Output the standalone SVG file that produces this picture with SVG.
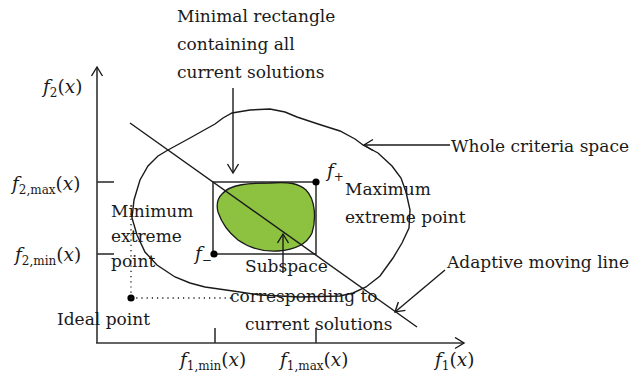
<svg xmlns="http://www.w3.org/2000/svg" width="641" height="379" viewBox="0 0 641 379">
<style>
.t{font-family:"DejaVu Serif","Liberation Serif",serif;font-size:17px;fill:#1a1a1a}
.m{font-family:"DejaVu Serif","Liberation Serif",serif;font-size:18.5px;fill:#1a1a1a}
.i{font-style:italic}
.s{font-size:12px}
.ln{stroke:#1a1a1a;stroke-width:1.4;fill:none}
.ax{stroke:#333;stroke-width:1.6;fill:none}
.dot{stroke:#1a1a1a;stroke-width:1.3;stroke-dasharray:1.2 4;fill:none}
</style>
<defs>
<marker id="ah" markerUnits="userSpaceOnUse" markerWidth="14" markerHeight="14" refX="10" refY="6" orient="auto">
<path d="M1,0.5 L10,6 L1,11.5" fill="none" stroke="#1a1a1a" stroke-width="1.4"/>
</marker>
</defs>
<rect width="641" height="379" fill="#fff"/>
<g id="axes">
<line class="ax" x1="97" y1="343" x2="97" y2="67" marker-end="url(#ah)"/>
<line class="ax" x1="96" y1="343" x2="464" y2="343" marker-end="url(#ah)"/>
<line class="ax" x1="97" y1="182" x2="114" y2="182"/>
<line class="ax" x1="97" y1="254" x2="114" y2="254"/>
<line class="ax" x1="215" y1="328" x2="215" y2="343"/>
<line class="ax" x1="316" y1="328" x2="316" y2="343"/>
</g>
<g id="criteria-space">
<path class="ln" d="M168,150 L190,138 L206,129 L215,124 L223,118 L232,113 L250,110 L270,109 L285,112 L297,117 L318,124 L340,131 L355,139 L363,145 L378,153 L392,166 L401,178 L406,192 L410,210 L409,228 L402,243 L393,258 L380,276 L366,287 L353,293 L340,296 L300,297 L260,295 L233,291 L205,287 L190,283 L175,277 L157,265 L145,252 L137,235 L132,218 L134,200 L140,180 L148,166 L158,156 Z"/>
</g>
<g id="subspace">
<path d="M222,194 C230,184 250,183 270,183 C290,182 298,183 306,190 C316,200 316,220 312,233 C306,246 292,250 278,251 C262,252 248,247 238,240 C228,232 222,224 218,212 C216,204 217,199 222,194 Z" fill="#8dc140" stroke="#1a1a1a" stroke-width="1.3"/>
</g>
<g id="rectangle">
<rect class="ln" x="213" y="182" width="103" height="72"/>
</g>
<g id="adaptive-line">
<line class="ln" x1="130" y1="123" x2="417" y2="327"/>
</g>
<g id="points">
<circle cx="316" cy="182" r="3.6" fill="#000"/>
<circle cx="214" cy="254" r="3.6" fill="#000"/>
<circle cx="131" cy="298" r="3.6" fill="#000"/>
</g>
<g id="connectors">
<path class="dot" d="M131,298 L131,210"/>
<path class="dot" d="M131,298 L232,298"/>
<line class="ln" x1="233" y1="88" x2="233" y2="173" marker-end="url(#ah)"/>
<line class="ln" x1="283" y1="273" x2="283" y2="234" marker-end="url(#ah)"/>
<line class="ln" x1="450" y1="145" x2="364" y2="145" marker-end="url(#ah)"/>
<line class="ln" x1="445" y1="270" x2="395" y2="312" marker-end="url(#ah)"/>
</g>
<g id="labels">
<text class="t" x="177" y="22">Minimal rectangle</text>
<text class="t" x="177" y="50">containing all</text>
<text class="t" x="177" y="78">current solutions</text>
<text class="t" x="451" y="152">Whole criteria space</text>
<text class="t" x="345" y="195">Maximum</text>
<text class="t" x="345" y="223">extreme point</text>
<text class="t" x="111" y="217">Minimum</text>
<text class="t" x="111" y="242">extreme</text>
<text class="t" x="111" y="267">point</text>
<text class="t" x="447" y="268">Adaptive moving line</text>
<text class="t" x="57" y="325">Ideal point</text>
<text class="t" x="245" y="272">Subspace</text>
<text class="t" x="230" y="302">corresponding to</text>
<text class="t" x="245" y="330">current solutions</text>
</g>
<g id="math">
<text class="m" x="43" y="93"><tspan class="i">f</tspan><tspan class="s" dy="4">2</tspan><tspan dy="-4">(</tspan><tspan class="i">x</tspan>)</text>
<text class="m" x="12" y="190"><tspan class="i">f</tspan><tspan class="s" dy="4">2,max</tspan><tspan dy="-4">(</tspan><tspan class="i">x</tspan>)</text>
<text class="m" x="15" y="261"><tspan class="i">f</tspan><tspan class="s" dy="4">2,min</tspan><tspan dy="-4">(</tspan><tspan class="i">x</tspan>)</text>
<text class="m" x="180" y="366"><tspan class="i">f</tspan><tspan class="s" dy="4">1,min</tspan><tspan dy="-4">(</tspan><tspan class="i">x</tspan>)</text>
<text class="m" x="280" y="366"><tspan class="i">f</tspan><tspan class="s" dy="4">1,max</tspan><tspan dy="-4">(</tspan><tspan class="i">x</tspan>)</text>
<text class="m" x="435" y="366"><tspan class="i">f</tspan><tspan class="s" dy="4">1</tspan><tspan dy="-4">(</tspan><tspan class="i">x</tspan>)</text>
<text class="m" x="327" y="177"><tspan class="i">f</tspan><tspan class="s" dy="4">+</tspan></text>
<text class="m" x="195" y="260"><tspan class="i">f</tspan><tspan class="s" dy="4">−</tspan></text>
</g>
</svg>
